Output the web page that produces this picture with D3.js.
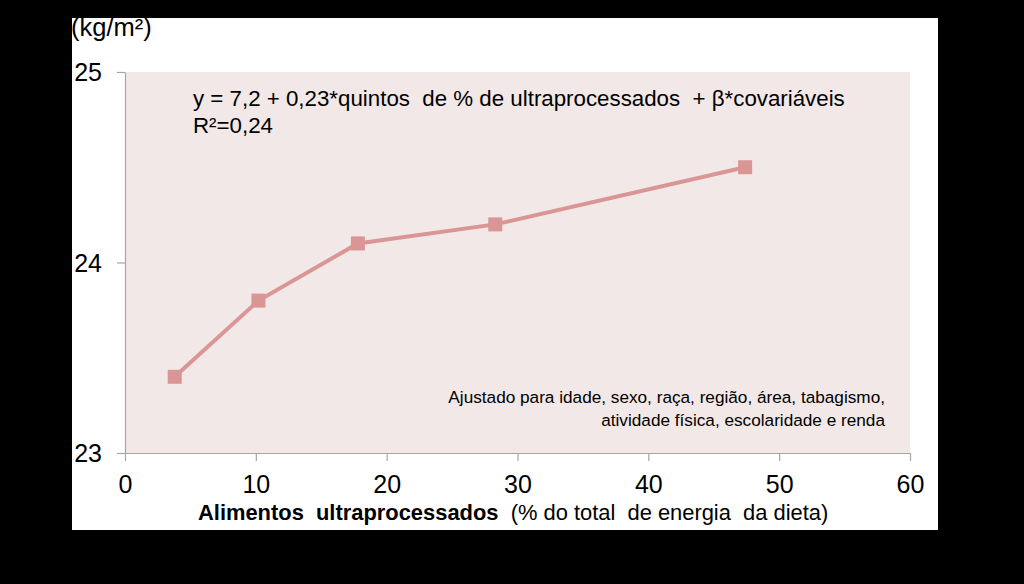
<!DOCTYPE html>
<html>
<head>
<meta charset="utf-8">
<script src="https://cdn.jsdelivr.net/npm/d3@7"></script>
<style>
  body { margin: 0; background: #000; }
  svg text { font-family: "Liberation Sans", Arial, sans-serif; fill: #000; }
</style>
</head>
<body>
<script>
// Chart data
const xValues = [3.8, 10.2, 17.8, 28.3, 47.4];
const bmiValues = [23.4, 23.8, 24.1, 24.2, 24.5];
const xTicks = [0, 10, 20, 30, 40, 50, 60];
const yTicks = [23, 24, 25];
const equationLines = ["y = 7,2 + 0,23*quintos  de % de ultraprocessados  + \u03b2*covariáveis", "R\u00b2=0,24"];
const noteLines = ["Ajustado para idade, sexo, raça, região, área, tabagismo,", "atividade física, escolaridade e renda"];

(function() {
  const W = 1024, H = 584;
  const svg = d3.select("body").append("svg")
    .attr("width", W).attr("height", H);

  // black background + white panel
  svg.append("rect").attr("width", W).attr("height", H).attr("fill", "#000");
  svg.append("rect")
    .attr("x", 72).attr("y", 18)
    .attr("width", 866).attr("height", 512)
    .attr("fill", "#fff");

  const plot = { left: 125, right: 910, top: 72, bottom: 453 };

  const x = d3.scaleLinear().domain([0, 60]).range([plot.left, plot.right]);
  const y = d3.scaleLinear().domain([23, 25]).range([plot.bottom, plot.top]);

  // plot area background
  svg.append("rect")
    .attr("x", plot.left).attr("y", plot.top)
    .attr("width", plot.right - plot.left).attr("height", plot.bottom - plot.top)
    .attr("fill", "#f2e8e8");

  // axes
  const xAxis = svg.append("g")
    .attr("transform", `translate(0,${plot.bottom})`)
    .call(d3.axisBottom(x).tickValues(xTicks).tickFormat(d3.format("d")).tickSize(8).tickSizeOuter(0));
  const yAxis = svg.append("g")
    .attr("transform", `translate(${plot.left},0)`)
    .call(d3.axisLeft(y).tickValues(yTicks).tickFormat(d3.format("d")).tickSize(8).tickSizeOuter(0));

  [xAxis, yAxis].forEach(g => {
    g.select(".domain").attr("stroke", "#a6a6a6").attr("stroke-width", 1.2);
    g.selectAll(".tick line").attr("stroke", "#a6a6a6").attr("stroke-width", 1.2);
    g.selectAll(".tick text")
      .attr("font-size", 25)
      .attr("font-family", "Liberation Sans, Arial, sans-serif")
      .attr("fill", "#000");
  });
  yAxis.selectAll(".tick text").attr("x", -23).attr("dy", "0.35em");
  xAxis.selectAll(".tick text").attr("y", 40).attr("dy", 0);

  // y unit label
  svg.append("text")
    .attr("x", 71).attr("y", 36)
    .attr("font-size", 25.5)
    .text("(kg/m\u00b2)");

  // x axis title
  const xt = svg.append("text")
    .attr("x", 198).attr("y", 520)
    .attr("font-size", 21.9)
    .style("white-space", "pre");
  xt.append("tspan").attr("font-weight", "bold").text("Alimentos  ultraprocessados");
  xt.append("tspan").text("  (% do total  de energia  da dieta)");

  // line + markers
  const pts = xValues.map((v, i) => ({ x: v, y: bmiValues[i] }));
  const line = d3.line().x(d => x(d.x)).y(d => y(d.y));
  svg.append("path")
    .datum(pts)
    .attr("fill", "none")
    .attr("stroke", "#d99694")
    .attr("stroke-width", 4)
    .attr("d", line);

  svg.selectAll(".marker")
    .data(pts)
    .enter().append("rect")
    .attr("class", "marker")
    .attr("x", d => x(d.x) - 7)
    .attr("y", d => y(d.y) - 7)
    .attr("width", 14).attr("height", 14)
    .attr("fill", "#d99694");

  // equation
  svg.selectAll(".eq")
    .data(equationLines)
    .enter().append("text")
    .attr("class", "eq")
    .attr("x", 193)
    .attr("y", (d, i) => 106 + i * 27)
    .attr("font-size", 22.3)
    .style("white-space", "pre")
    .text(d => d);

  // adjustment note
  svg.selectAll(".note")
    .data(noteLines)
    .enter().append("text")
    .attr("class", "note")
    .attr("x", 885)
    .attr("y", (d, i) => 403 + i * 23)
    .attr("text-anchor", "end")
    .attr("font-size", 17.2)
    .text(d => d);
})();
</script>
</body>
</html>
